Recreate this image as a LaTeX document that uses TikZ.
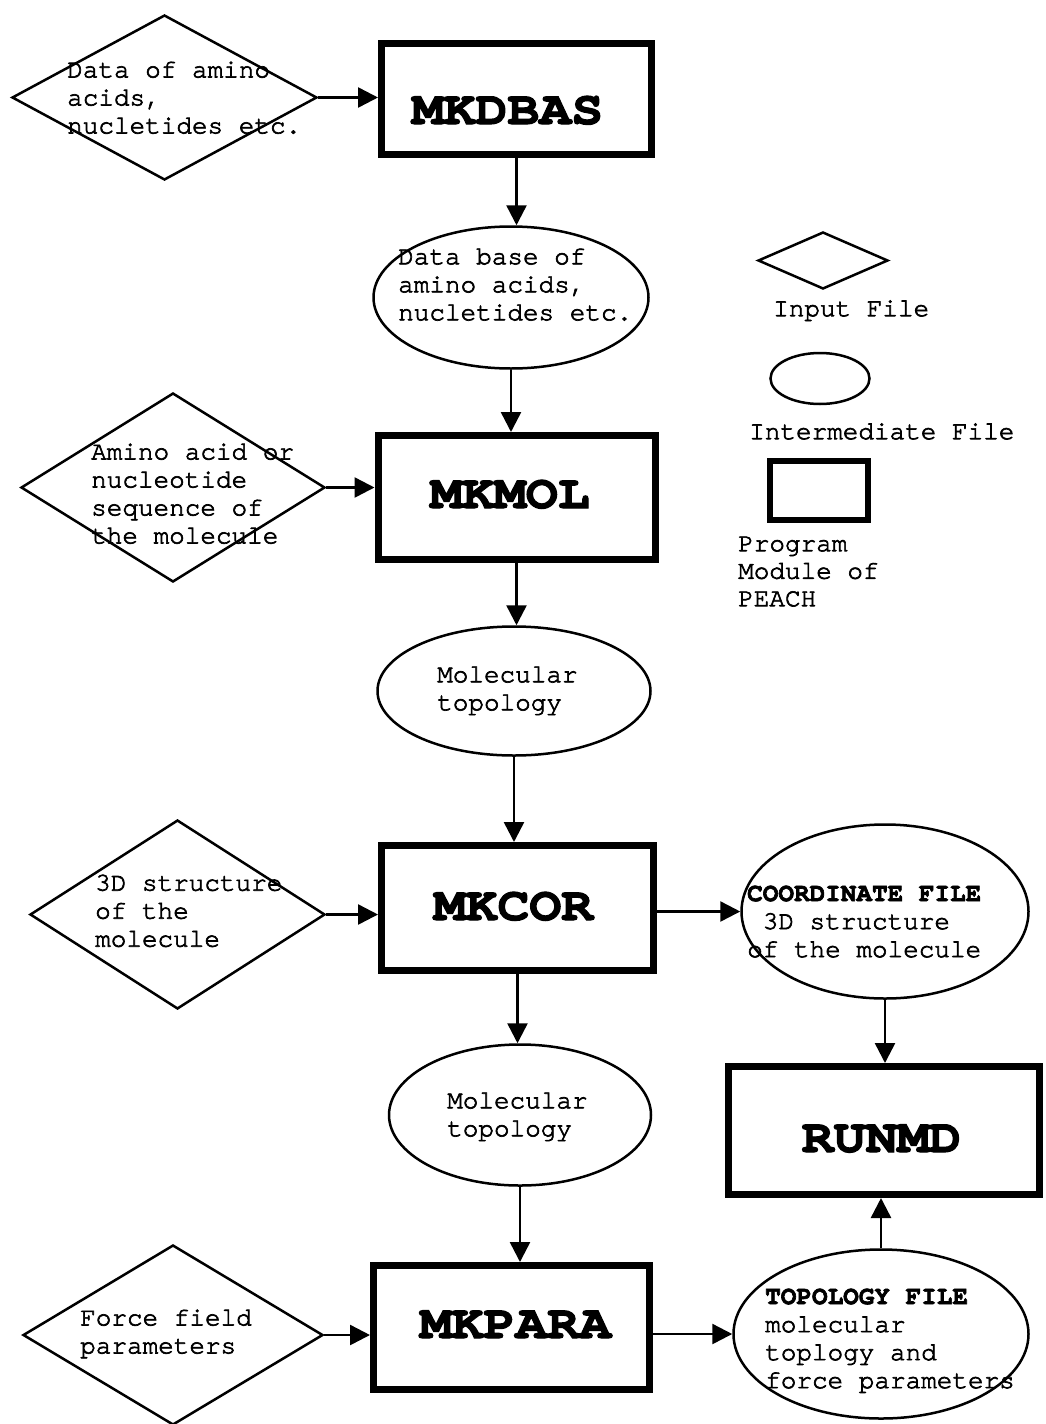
\documentclass[tikz,border=0pt]{standalone}
\usepackage{fontspec}
\newfontfamily\cur{texgyrecursor}[Extension=.otf, UprightFont=*-regular, BoldFont=*-bold, FakeBold=2.5, Ligatures=NoCommon]
\newfontfamily\curbig{texgyrecursor}[Extension=.otf, UprightFont=*-bold, FakeStretch=1.13, FakeBold=2.5, Ligatures=NoCommon]
\usetikzlibrary{shapes.geometric, arrows.meta}
\begin{document}
\begin{tikzpicture}[x=1pt, y=-1pt,
  txt/.style={font=\fontsize{26}{28}\selectfont\cur, inner sep=0pt, align=left,
              anchor=north west, yshift=16.6pt, execute at begin node=\strut},
  lbl/.style={font=\fontsize{47}{50}\selectfont\curbig, inner sep=0pt, anchor=base},
  dia/.style={diamond, draw, line width=2.5pt, inner sep=0pt},
  ell/.style={ellipse, draw, line width=2.5pt, inner sep=0pt},
  box/.style={rectangle, draw, line width=7pt, inner sep=0pt},
  arr/.style={-{Triangle[length=20pt,width=20pt]}, line width=2.5pt}]
\fill[white] (0,0) rectangle (1045,1424);
\useasboundingbox (0,0) rectangle (1045,1424);

% program modules
\node[box, minimum width=270pt, minimum height=111pt] (mkdbas) at (516.5,99) {};
\node[box, minimum width=277pt, minimum height=124pt] (mkmol) at (516.5,497.5) {};
\node[box, minimum width=272pt, minimum height=125pt] (mkcor) at (517.5,908) {};
\node[box, minimum width=276pt, minimum height=124pt] (mkpara) at (511.5,1327.5) {};
\node[box, minimum width=311pt, minimum height=128pt] (runmd) at (884,1130.5) {};

\node[lbl] (mkdbast) at (507.5,124) {MKDBAS};
\node[lbl] (mkmolt) at (510,508) {MKMOL};
\node[lbl] (mkcort) at (513.5,920) {MKCOR};
\node[lbl] (runmdt) at (881.5,1152) {RUNMD};
\node[lbl] (mkparat) at (515.5,1338) {MKPARA};

% input files
\node[dia, minimum width=305pt, minimum height=165pt] (d1) at (164.5,97.5) {};
\node[dia, minimum width=304pt, minimum height=189pt] (d2) at (173,487.5) {};
\node[dia, minimum width=295pt, minimum height=189pt] (d3) at (177.5,914.5) {};
\node[dia, minimum width=300pt, minimum height=180pt] (d4) at (173,1335) {};

% intermediate files
\node[ell, minimum width=275pt, minimum height=142pt] (e1) at (511,297.5) {};
\node[ell, minimum width=273pt, minimum height=129pt] (e2) at (514,691) {};
\node[ell, minimum width=287pt, minimum height=174pt] (e3) at (885,911.5) {};
\node[ell, minimum width=262pt, minimum height=141pt] (e4) at (520,1115) {};
\node[ell, minimum width=295pt, minimum height=169pt] (e5) at (881,1334) {};

% texts
\node[txt] (t1) at (67,78) {Data of amino\\acids,\\nucletides etc.};
\node[txt] (t2) at (398,265) {Data base of\\amino acids,\\nucletides etc.};
\node[txt] (t3) at (91,460) {Amino acid or\\nucleotide\\sequence of\\the molecule};
\node[txt] (t4) at (437,683) {Molecular\\topology};
\node[txt] (t5) at (95,891) {3D structure\\of the\\molecule};
\node[txt] (t6) at (747,902) {{\bfseries COORDINATE FILE}\\\phantom{x}3D structure\\of the molecule};
\node[txt] (t7) at (447,1109) {Molecular\\topology};
\node[txt] (t8) at (80,1326) {Force field\\parameters};
\node[txt] (t9) at (765,1305) {{\bfseries TOPOLOGY FILE}\\molecular\\toplogy and\\force parameters};

% legend
\node[dia, minimum width=130pt, minimum height=57pt] (ld) at (823,260.5) {};
\node[txt] (ldt) at (773,313) {Input File};
\node[ell, minimum width=99pt, minimum height=51pt] (le) at (820,378.5) {};
\node[txt] (let) at (749,436) {Intermediate File};
\node[rectangle, draw, line width=6pt, inner sep=0pt, minimum width=98pt, minimum height=59pt] (lr) at (819,490.5) {};
\node[txt, font=\fontsize{26}{27.5}\selectfont\cur] (lrt) at (738,553) {Program\\Module of\\PEACH};

% connectors
\draw[arr] (d1.east) -- (d1.east -| mkdbas.west);
\draw[arr] (mkdbas.south) -- (mkdbas.south |- e1.north);
\draw[arr] (e1.south) -- (e1.south |- mkmol.north);
\draw[arr] (d2.east) -- (d2.east -| mkmol.west);
\draw[arr] (mkmol.south) -- (mkmol.south |- e2.north);
\draw[arr] (e2.south) -- (e2.south |- mkcor.north);
\draw[arr] (d3.east) -- (d3.east -| mkcor.west);
\draw[arr] (e3.west -| mkcor.east) -- (e3.west);
\draw[arr] (mkcor.south) -- (mkcor.south |- e4.north);
\draw[arr] (e3.south) -- (e3.south |- runmd.north);
\draw[arr] (e4.south) -- (e4.south |- mkpara.north);
\draw[arr] (d4.east) -- (d4.east -| mkpara.west);
\draw[arr] (e5.west -| mkpara.east) -- (e5.west);
\draw[arr] (e5.north) -- (e5.north |- runmd.south);
\end{tikzpicture}
\end{document}
